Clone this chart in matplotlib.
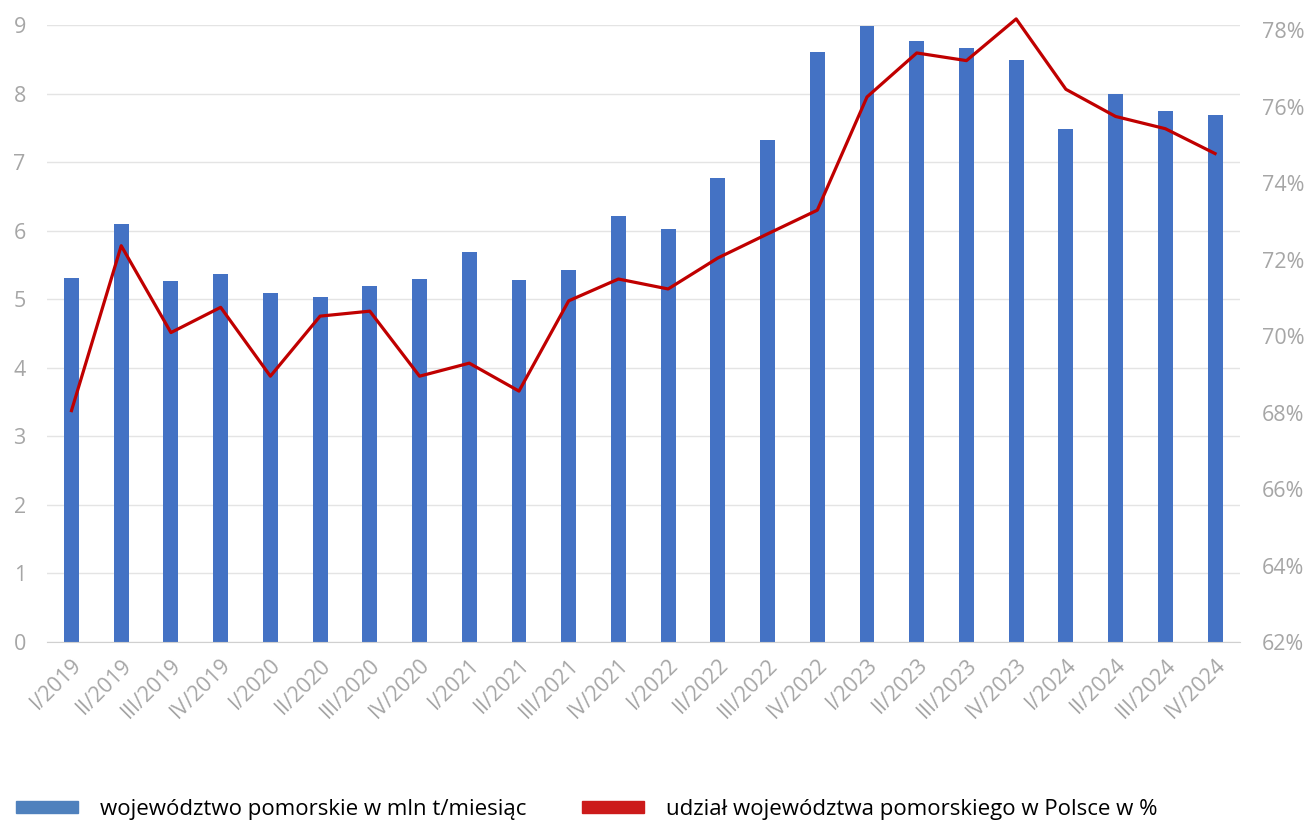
import matplotlib
matplotlib.use('Agg')
import matplotlib.pyplot as plt
from matplotlib.patches import Patch
from matplotlib.ticker import FuncFormatter

plt.rcParams['font.family'] = ['Open Sans', 'DejaVu Sans']

quarters = ['I/2019', 'II/2019', 'III/2019', 'IV/2019',
            'I/2020', 'II/2020', 'III/2020', 'IV/2020',
            'I/2021', 'II/2021', 'III/2021', 'IV/2021',
            'I/2022', 'II/2022', 'III/2022', 'IV/2022',
            'I/2023', 'II/2023', 'III/2023', 'IV/2023',
            'I/2024', 'II/2024', 'III/2024', 'IV/2024']
volume = [5.31, 6.10, 5.26, 5.37, 5.09, 5.04, 5.20, 5.30,
          5.69, 5.28, 5.42, 6.21, 6.03, 6.77, 7.32, 8.61,
          8.98, 8.76, 8.67, 8.49, 7.48, 7.99, 7.74, 7.69]
share = [68.05, 72.36, 70.09, 70.75, 68.95, 70.52, 70.65, 68.95,
         69.29, 68.56, 70.92, 71.49, 71.23, 72.04, 72.67, 73.29,
         76.25, 77.40, 77.20, 78.29, 76.45, 75.74, 75.42, 74.77]

bar_color = '#4472c4'
line_color = '#c00000'
tick_color = '#a6a6a6'

fig = plt.figure(figsize=(13.1, 8.21), dpi=100)
ax = fig.add_axes([0.0356, 0.218, 0.9109, 0.7515])
ax2 = ax.twinx()

x = range(len(quarters))
ax.bar(x, volume, width=0.30, color=bar_color, zorder=2)
ax2.plot(x, share, color=line_color, linewidth=2.3, clip_on=False, zorder=3)

ax.set_xlim(-0.5, len(quarters) - 0.5)
ax.set_ylim(0, 9)
ax.set_yticks(range(0, 10))
ax.grid(axis='y', color='#e4e4e4', linewidth=1, zorder=0)
ax.set_axisbelow(True)

ax2.set_ylim(62, 78.13)
ax2.set_yticks(range(62, 79, 2))
ax2.yaxis.set_major_formatter(FuncFormatter(lambda v, p: '%d%%' % v))

ax.set_xticks(list(x))
ax.set_xticklabels(quarters, rotation=45, ha='right', rotation_mode='anchor')

for a in (ax, ax2):
    for s in a.spines.values():
        s.set_visible(False)
    a.tick_params(length=0, colors=tick_color, labelsize=15.5)
ax.spines['bottom'].set_visible(True)
ax.spines['bottom'].set_color('#d0d0d0')
ax.tick_params(axis='y', pad=15)
ax.tick_params(axis='x', pad=9)
ax2.tick_params(axis='y', pad=16)

handles = [Patch(color='#4f81bd', label='województwo pomorskie w mln t/miesiąc'),
           Patch(color='#cc1a1a', label='udział województwa pomorskiego w Polsce w %')]
fig.legend(handles=handles, loc='lower left', bbox_to_anchor=(0.0, -0.018), ncol=2,
           frameon=False, fontsize=16, handlelength=2.8, handleheight=0.45,
           handletextpad=1.0, columnspacing=2.5, borderaxespad=0.3)

plt.savefig('out.png', dpi=100)
